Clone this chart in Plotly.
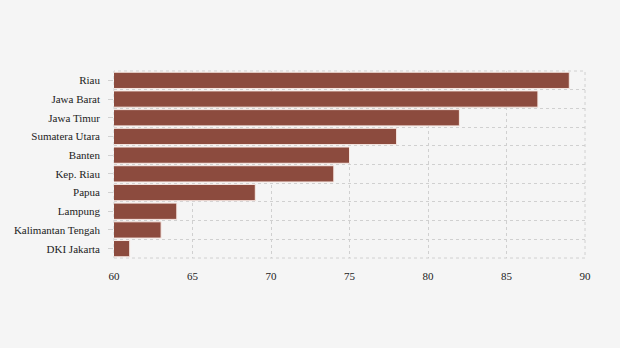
import plotly.graph_objects as go

provinces = ["Riau", "Jawa Barat", "Jawa Timur", "Sumatera Utara", "Banten",
             "Kep. Riau", "Papua", "Lampung", "Kalimantan Tengah", "DKI Jakarta"]
values = [89, 87, 82, 78, 75, 74, 69, 64, 63, 61]
x_ticks = [60, 65, 70, 75, 80, 85, 90]

FONT = "Liberation Serif"
GRID = "#d0d0d0"
n = len(provinces)

fig = go.Figure()
fig.add_trace(go.Bar(
    y=provinces, x=values, orientation="h",
    marker=dict(color="#8c4b3e", line=dict(color="#f7e9e4", width=1)),
    hoverinfo="x+y", showlegend=False,
))
# invisible trace for tick overlay axis
fig.add_trace(go.Scatter(y=provinces, x=[60] * n, yaxis="y2",
                         mode="markers", marker=dict(opacity=0), hoverinfo="skip",
                         showlegend=False))

fig.update_layout(
    width=620, height=348,
    paper_bgcolor="#f5f5f5", plot_bgcolor="#f5f5f5",
    margin=dict(l=114, r=35, t=71, b=90),
    bargap=0.13,
    font=dict(family=FONT, size=11, color="#222"),
    xaxis=dict(range=[60, 90], tickvals=x_ticks, showgrid=True, gridcolor=GRID,
               griddash="dot", gridwidth=1, zeroline=False, showline=False,
               ticks="", ticklabelstandoff=10, tickfont=dict(family=FONT, size=11, color="#222")),
    yaxis=dict(range=[n - 0.5, -0.5], type="category", tickson="boundaries",
               showgrid=True, gridcolor=GRID, griddash="dot", gridwidth=1,
               ticks="", showticklabels=True, ticklabelstandoff=13,
               tickfont=dict(family=FONT, size=11, color="#222"), showline=False),
    yaxis2=dict(overlaying="y", matches="y", side="left", type="category",
                showgrid=False, ticks="outside", ticklen=5, tickcolor=GRID,
                showticklabels=False, showline=False),
    shapes=[dict(type="rect", xref="x domain", yref="y domain", x0=0, x1=1, y0=0, y1=1,
                 line=dict(color=GRID, width=1, dash="dot"), layer="below")],
)

fig.write_html("out.html")
